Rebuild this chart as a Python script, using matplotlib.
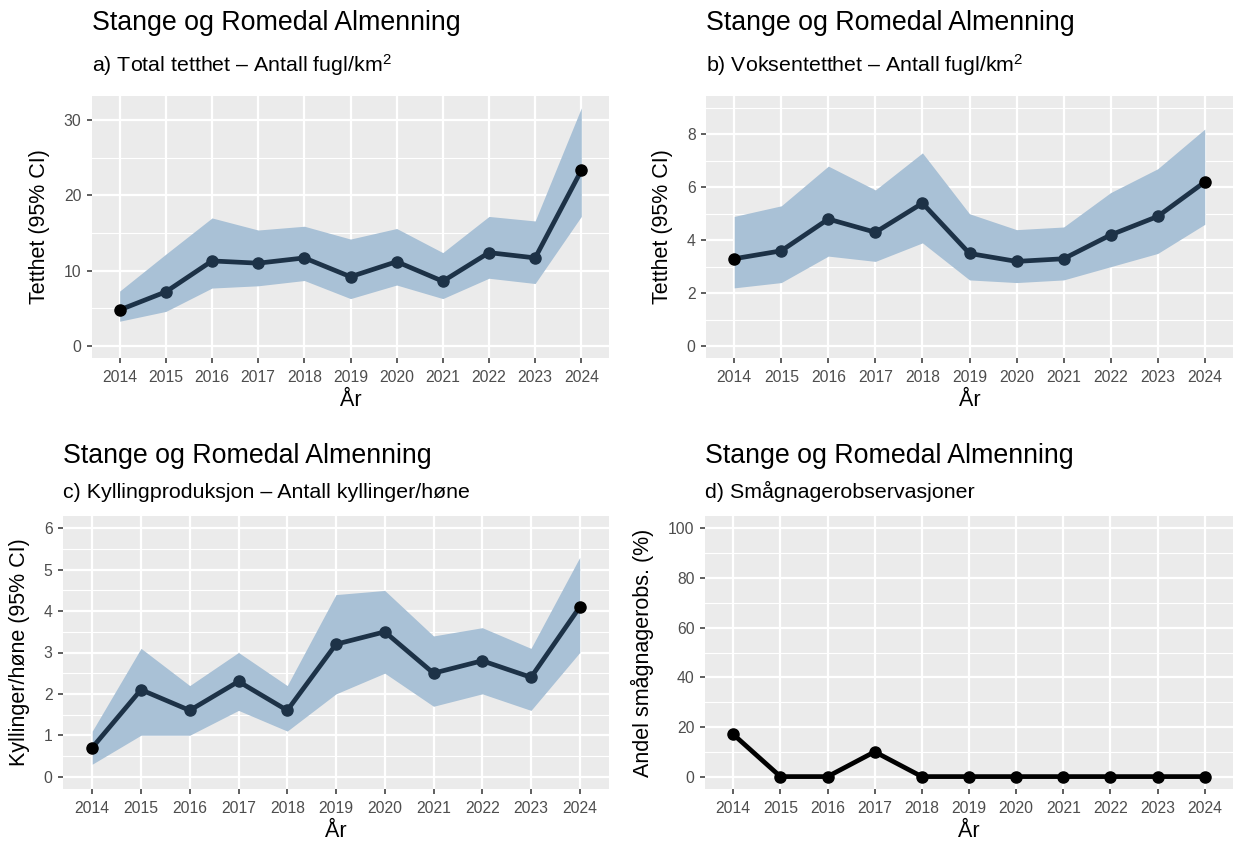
import matplotlib
matplotlib.use("Agg")
from matplotlib import pyplot as plt
from matplotlib.ticker import MultipleLocator

plt.rcParams['font.family'] = ['Liberation Sans', 'DejaVu Sans']
plt.rcParams['mathtext.fontset'] = 'custom'
plt.rcParams['mathtext.rm'] = 'Liberation Sans'
plt.rcParams['mathtext.it'] = 'Liberation Sans:italic'

years = [2014, 2015, 2016, 2017, 2018, 2019, 2020, 2021, 2022, 2023, 2024]

# a) total density
total_est = [4.8, 7.2, 11.3, 11.0, 11.7, 9.2, 11.2, 8.6, 12.4, 11.7, 23.3]
total_lo = [3.3, 4.6, 7.7, 8.0, 8.7, 6.3, 8.1, 6.3, 9.0, 8.3, 17.2]
total_hi = [7.3, 12.2, 17.0, 15.4, 15.9, 14.2, 15.6, 12.4, 17.2, 16.6, 31.6]

# b) adult density
adult_est = [3.3, 3.6, 4.8, 4.3, 5.4, 3.5, 3.2, 3.3, 4.2, 4.9, 6.2]
adult_lo = [2.2, 2.4, 3.4, 3.2, 3.9, 2.5, 2.4, 2.5, 3.0, 3.5, 4.6]
adult_hi = [4.9, 5.3, 6.8, 5.9, 7.3, 5.0, 4.4, 4.5, 5.8, 6.7, 8.2]

# c) chick production
chick_est = [0.7, 2.1, 1.6, 2.3, 1.6, 3.2, 3.5, 2.5, 2.8, 2.4, 4.1]
chick_lo = [0.3, 1.0, 1.0, 1.6, 1.1, 2.0, 2.5, 1.7, 2.0, 1.6, 3.0]
chick_hi = [1.1, 3.1, 2.2, 3.0, 2.2, 4.4, 4.5, 3.4, 3.6, 3.1, 5.3]

# d) small rodent observations (%)
rodent_pct = [17, 0, 0, 10, 0, 0, 0, 0, 0, 0, 0]

site = "Stange og Romedal Almenning"
subtitles = [
    "a) Total tetthet \u2013 Antall fugl/km$^2$",
    "b) Voksentetthet \u2013 Antall fugl/km$^2$",
    "c) Kyllingproduksjon \u2013 Antall kyllinger/h\u00f8ne",
    "d) Sm\u00e5gnagerobservasjoner",
]
ylabels = ["Tetthet (95% CI)", "Tetthet (95% CI)",
           "Kyllinger/h\u00f8ne (95% CI)", "Andel sm\u00e5gnagerobs. (%)"]

W, H = 1236, 842
fig = plt.figure(figsize=(W / 100, H / 100), dpi=100)

# panel boxes in pixels: left, top, right, bottom
boxes = [(92, 96, 609, 358), (706, 96, 1233, 358),
         (63, 516, 609, 789), (705, 516, 1233, 789)]
title_y = [(30, 72), (30, 72), (463, 498), (463, 498)]
ylims = [(0, 31.6), (0, 9), (0, 6), (0, 100)]
majors = [10, 2, 1, 20]

ribbon = '#a9c1d6'
navy = '#1d3247'
x = list(range(len(years)))

series = [(total_est, total_lo, total_hi), (adult_est, adult_lo, adult_hi),
          (chick_est, chick_lo, chick_hi), (rodent_pct, None, None)]

for i, (est, lo, hi) in enumerate(series):
    l, t, r, b = boxes[i]
    ax = fig.add_axes([l / W, 1 - b / H, (r - l) / W, (b - t) / H])
    ax.set_facecolor('#ebebeb')
    for s in ax.spines.values():
        s.set_visible(False)

    if lo is not None:
        ax.fill_between(x, lo, hi, color=ribbon, lw=0, zorder=2)
        ax.plot(x, est, color=navy, lw=3.4, zorder=3, solid_capstyle='butt')
        ax.plot(x[1:-1], est[1:-1], 'o', color=navy, ms=8, zorder=4)
        ax.plot([x[0], x[-1]], [est[0], est[-1]], 'o', color='black', ms=8, zorder=4)
    else:
        ax.plot(x, est, color='black', lw=3.4, zorder=3, marker='o', ms=8)

    y0, y1 = ylims[i]
    pad = (y1 - y0) * 0.05
    ax.set_ylim(y0 - pad, y1 + pad)
    ax.set_xlim(-0.6, len(years) - 0.4)
    ax.yaxis.set_major_locator(MultipleLocator(majors[i]))
    ax.yaxis.set_minor_locator(MultipleLocator(majors[i] / 2))
    ax.set_xticks(x)
    ax.set_xticklabels([str(y) for y in years])
    ax.grid(True, which='major', color='white', lw=1.6, zorder=1)
    ax.grid(True, which='minor', axis='y', color='white', lw=0.8, zorder=1)
    ax.set_axisbelow(True)
    ax.tick_params(which='major', length=3.5, width=1.1, color='#333333',
                   labelsize=11.3, labelcolor='#4d4d4d', pad=4)
    ax.tick_params(axis='x', which='major', pad=5)
    ax.tick_params(which='minor', length=0)

    ax.set_xlabel("\u00c5r", fontsize=15.5, labelpad=3.5)
    ax.set_ylabel(ylabels[i], fontsize=15.5, labelpad=10)

    fig.text(l / W, 1 - title_y[i][0] / H, site, fontsize=19.3, va='baseline', ha='left')
    fig.text(l / W, 1 - title_y[i][1] / H, subtitles[i], fontsize=15.4, va='baseline', ha='left')

fig.savefig('out.png', dpi=100)
